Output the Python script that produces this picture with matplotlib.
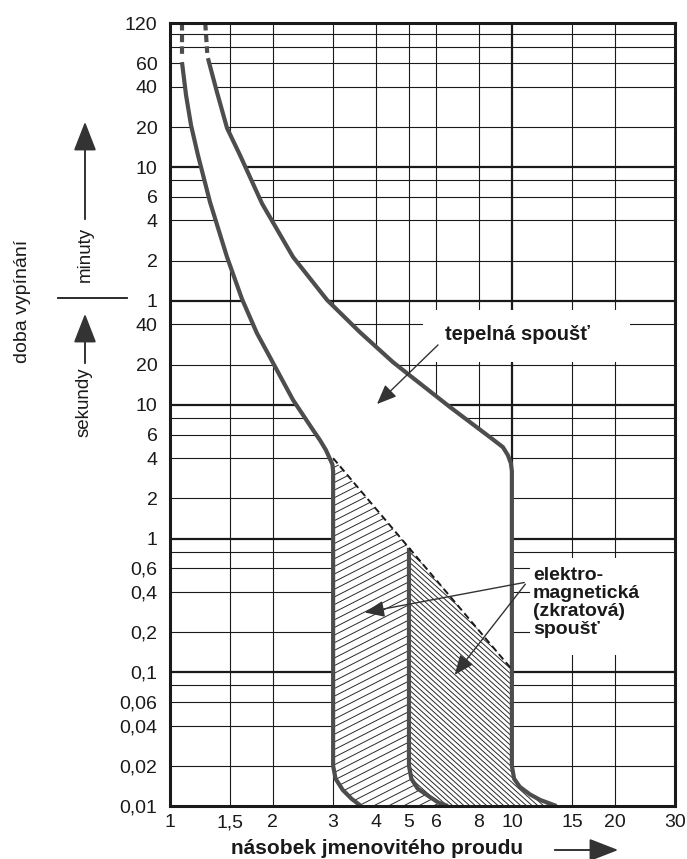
import numpy as np
import matplotlib
matplotlib.use('Agg')
import matplotlib.pyplot as plt
from matplotlib.patches import Polygon, Rectangle, FancyArrowPatch
from matplotlib.collections import LineCollection
from matplotlib.lines import Line2D

plt.rcParams['font.family'] = ['Liberation Sans', 'DejaVu Sans']

# ---------------- data ----------------
x_ticks = [1, 1.5, 2, 3, 4, 5, 6, 8, 10, 15, 20, 30]
x_tick_labels = ['1', '1,5', '2', '3', '4', '5', '6', '8', '10', '15', '20', '30']
# y axis in seconds (upper part labelled in minutes)
y_ticks_s = [0.01, 0.02, 0.04, 0.06, 0.1, 0.2, 0.4, 0.6, 1, 2, 4, 6, 10, 20, 40,
             60, 120, 240, 360, 600, 1200, 2400, 3600, 7200]
y_tick_labels = ['0,01', '0,02', '0,04', '0,06', '0,1', '0,2', '0,4', '0,6', '1', '2', '4', '6',
                 '10', '20', '40', '1', '2', '4', '6', '10', '20', '40', '60', '120']
x_grid = [1.5, 2, 3, 4, 5, 6, 8, 10, 15, 20]
x_grid_bold = [10]
y_grid = [0.02, 0.04, 0.06, 0.08, 0.1, 0.2, 0.4, 0.6, 0.8, 1, 2, 4, 6, 8, 10, 20, 40, 60,
          120, 240, 360, 480, 600, 1200, 2400, 3600, 4800, 6000]
y_grid_bold = [0.1, 1, 10, 60, 600]

# lower thermal / magnetic limit (left curve)
lo_x = [1.084, 1.114, 1.152, 1.207, 1.309, 1.468, 1.624, 1.795, 1.96, 2.29, 2.62, 2.745,
        2.858, 2.93, 2.985, 3.0, 3.0, 3.05, 3.2, 3.4, 3.62]
lo_t = [3670, 2080, 1240, 740, 330, 128, 62, 34.5, 22.8, 10.9, 6.5, 5.46,
        4.6, 4.0, 3.6, 3.2, 0.02, 0.016, 0.0132, 0.0113, 0.01]
lo_dash_x = [1.084, 1.084]
lo_dash_t = [7200, 4200]

# upper thermal / magnetic limit (right curve)
hi_x = [1.291, 1.372, 1.468, 1.602, 1.86, 2.29, 2.88, 3.59, 4.49, 4.93, 6.59, 8.62,
        9.41, 9.73, 9.93, 10.0, 10.0, 10.15, 10.55, 11.3, 12.1, 13.5]
hi_t = [3930, 2190, 1180, 740, 320, 128, 61, 35.1, 20.9, 17.3, 9.65, 5.75,
        4.84, 4.22, 3.67, 3.2, 0.02, 0.016, 0.0139, 0.0122, 0.0111, 0.01]
hi_dash_x = [1.268, 1.285]
hi_dash_t = [7200, 4300]

# boundary of the second magnetic characteristic
mid_x = [5.0, 5.08, 5.3, 5.75, 6.1, 6.5]
mid_t = [0.02, 0.016, 0.0135, 0.0117, 0.0106, 0.01]

# dashed upper limit of the magnetic zone
dash_x = [3.0, 10.0]
dash_t = [4.0, 0.105]

# ---------------- figure ----------------
FW, FH = 687, 859
fig = plt.figure(figsize=(FW / 100, FH / 100), dpi=100)
AX_L, AX_R, AX_T, AX_B = 170, 675, 23, 806
ax = fig.add_axes([AX_L / FW, (FH - AX_B) / FH, (AX_R - AX_L) / FW, (AX_B - AX_T) / FH])
ax.set_xscale('log')
ax.set_yscale('log')
ax.set_xlim(1, 30)
ax.set_ylim(0.01, 7200)


def fpx(x, y):
    """image pixel -> figure fraction"""
    return x / FW, 1 - y / FH


def apx(x, y):
    """image pixel -> axes fraction"""
    return (x - AX_L) / (AX_R - AX_L), (AX_B - y) / (AX_B - AX_T)


# grid
for gx in x_grid:
    ax.axvline(gx, color='#1a1a1a', lw=1.6 if gx in x_grid_bold else 0.8, zorder=1)
for gy in y_grid:
    ax.axhline(gy, color='#1a1a1a', lw=1.6 if gy in y_grid_bold else 0.8, zorder=1)

ax.set_xticks(x_ticks)
ax.set_xticklabels(x_tick_labels)
ax.set_yticks(y_ticks_s)
ax.set_yticklabels(y_tick_labels)
ax.minorticks_off()
ax.tick_params(axis='both', length=0, labelsize=14, colors='#1a1a1a')
ax.tick_params(axis='y', pad=9)
ax.tick_params(axis='x', pad=6)
for sp in ax.spines.values():
    sp.set_linewidth(2.2)
    sp.set_color('#1a1a1a')
    sp.set_zorder(6)

# white band between the limit curves
band = list(zip(lo_x, lo_t)) + list(zip(hi_x, hi_t))[::-1]
ax.add_patch(Polygon(band, closed=True, facecolor='white', edgecolor='none', zorder=2))

# white label boxes
for (x0, y0, x1, y1) in [(423, 310, 630, 362), (530, 558, 675, 655)]:
    a0 = apx(x0, y1)
    a1 = apx(x1, y0)
    ax.add_patch(Rectangle(a0, a1[0] - a0[0], a1[1] - a0[1], transform=ax.transAxes,
                           facecolor='white', edgecolor='none', zorder=2))

# magnetic zones (hatched)
lx, lt = np.log10(dash_x), np.log10(dash_t)
t5 = 10 ** np.interp(np.log10(mid_x[0]), lx, lt)
k_lo = lo_t.index(0.02) - 1
k_hi = hi_t.index(0.02)
left_zone = [(dash_x[0], dash_t[0])] + list(zip(lo_x[k_lo:], lo_t[k_lo:])) + \
    list(zip(mid_x, mid_t))[::-1] + [(mid_x[0], t5)]
right_zone = [(mid_x[0], t5)] + list(zip(mid_x, mid_t)) + \
    list(zip(hi_x[k_hi:], hi_t[k_hi:]))[::-1] + [(dash_x[1], dash_t[1])]

W = (AX_R - AX_L)
H = (AX_B - AX_T)


def hatch(patch, angle, spacing, lw=0.7, color='#2a2a2a'):
    a = np.deg2rad(angle)
    d = np.array([np.cos(a), np.sin(a)])
    n = np.array([-np.sin(a), np.cos(a)])
    L = np.hypot(W, H)
    segs = []
    for k in np.arange(-L, L, spacing):
        c = np.array([W / 2, H / 2]) + k * n
        p0, p1 = c - L * d, c + L * d
        segs.append([(p0[0] / W, p0[1] / H), (p1[0] / W, p1[1] / H)])
    lc = LineCollection(segs, colors=color, linewidths=lw, transform=ax.transAxes, zorder=3)
    ax.add_collection(lc, autolim=False)
    lc.set_clip_path(patch)


pl = Polygon(left_zone, closed=True, facecolor='white', edgecolor='none', zorder=2.5)
pr = Polygon(right_zone, closed=True, facecolor='white', edgecolor='none', zorder=2.5)
ax.add_patch(pl)
ax.add_patch(pr)
hatch(pl, 27, 6.8)
hatch(pr, -42, 3.8)

# curves
curve_kw = dict(color='#4d4d4d', lw=3.0, solid_capstyle='butt', solid_joinstyle='round', zorder=4)
ax.plot(lo_x, lo_t, **curve_kw)
ax.plot(hi_x, hi_t, **curve_kw)
ax.plot([mid_x[0]] + mid_x, [t5] + mid_t, **curve_kw)
ax.plot(lo_dash_x, lo_dash_t, color='#4d4d4d', lw=3.0, linestyle=(0, (1.8, 1.0)), zorder=4)
ax.plot(hi_dash_x, hi_dash_t, color='#4d4d4d', lw=3.0, linestyle=(0, (1.8, 1.0)), zorder=4)
ax.plot(dash_x, dash_t, color='#1a1a1a', lw=1.4, linestyle=(0, (3.5, 2.0)), zorder=4)

ax.set_xlim(1, 30)
ax.set_ylim(0.01, 7200)

# annotations inside the chart
fig.text(*fpx(445, 335), 'tepelná spoušť', ha='left', va='center', fontsize=14.5,
         fontweight='bold', color='#1a1a1a', zorder=7)
arr_kw = dict(arrowstyle='-|>,head_length=0.6,head_width=0.25', color='#333333', lw=1.0,
              mutation_scale=20, transform=fig.transFigure, zorder=7)
fig.patches.append(FancyArrowPatch(fpx(440, 343), fpx(375, 406), **arr_kw))

em_lines = ['elektro-', 'magnetická', '(zkratová)', 'spoušť']
em_y = [575, 593, 612, 630]
for s, yy in zip(em_lines, em_y):
    fig.text(*fpx(533, yy), s, ha='left', va='center', fontsize=14, fontweight='bold',
             color='#1a1a1a')
fig.patches.append(FancyArrowPatch(fpx(527, 582), fpx(362, 613), **arr_kw))
fig.patches.append(FancyArrowPatch(fpx(527, 582), fpx(453, 677), **arr_kw))

# axis titles
fig.text(*fpx(377, 849), 'násobek jmenovitého proudu', ha='center', va='center',
         fontsize=15, fontweight='bold', color='#1a1a1a')
big_arr = dict(arrowstyle='-|>,head_length=0.9,head_width=0.35', color='#333333', lw=1.4,
               mutation_scale=20, transform=fig.transFigure)
fig.patches.append(FancyArrowPatch(fpx(552, 850), fpx(621, 850), **big_arr))

fig.text(*fpx(23, 301), 'doba vypínání', rotation=90, ha='center', va='center',
         fontsize=14, color='#1a1a1a')
fig.text(*fpx(85, 254), 'minuty', rotation=90, ha='center', va='center',
         fontsize=13.5, color='#1a1a1a')
fig.text(*fpx(84, 402), 'sekundy', rotation=90, ha='center', va='center',
         fontsize=13.5, color='#1a1a1a')
fig.patches.append(FancyArrowPatch(fpx(85, 222), fpx(85, 119), **big_arr))
fig.patches.append(FancyArrowPatch(fpx(85, 366), fpx(85, 311), **big_arr))
fig.lines.append(Line2D([58 / FW, 127 / FW], [1 - 298 / FH, 1 - 298 / FH],
                        transform=fig.transFigure, color='#1a1a1a', lw=1.3))

fig.savefig('out.png', dpi=100, facecolor='white')
